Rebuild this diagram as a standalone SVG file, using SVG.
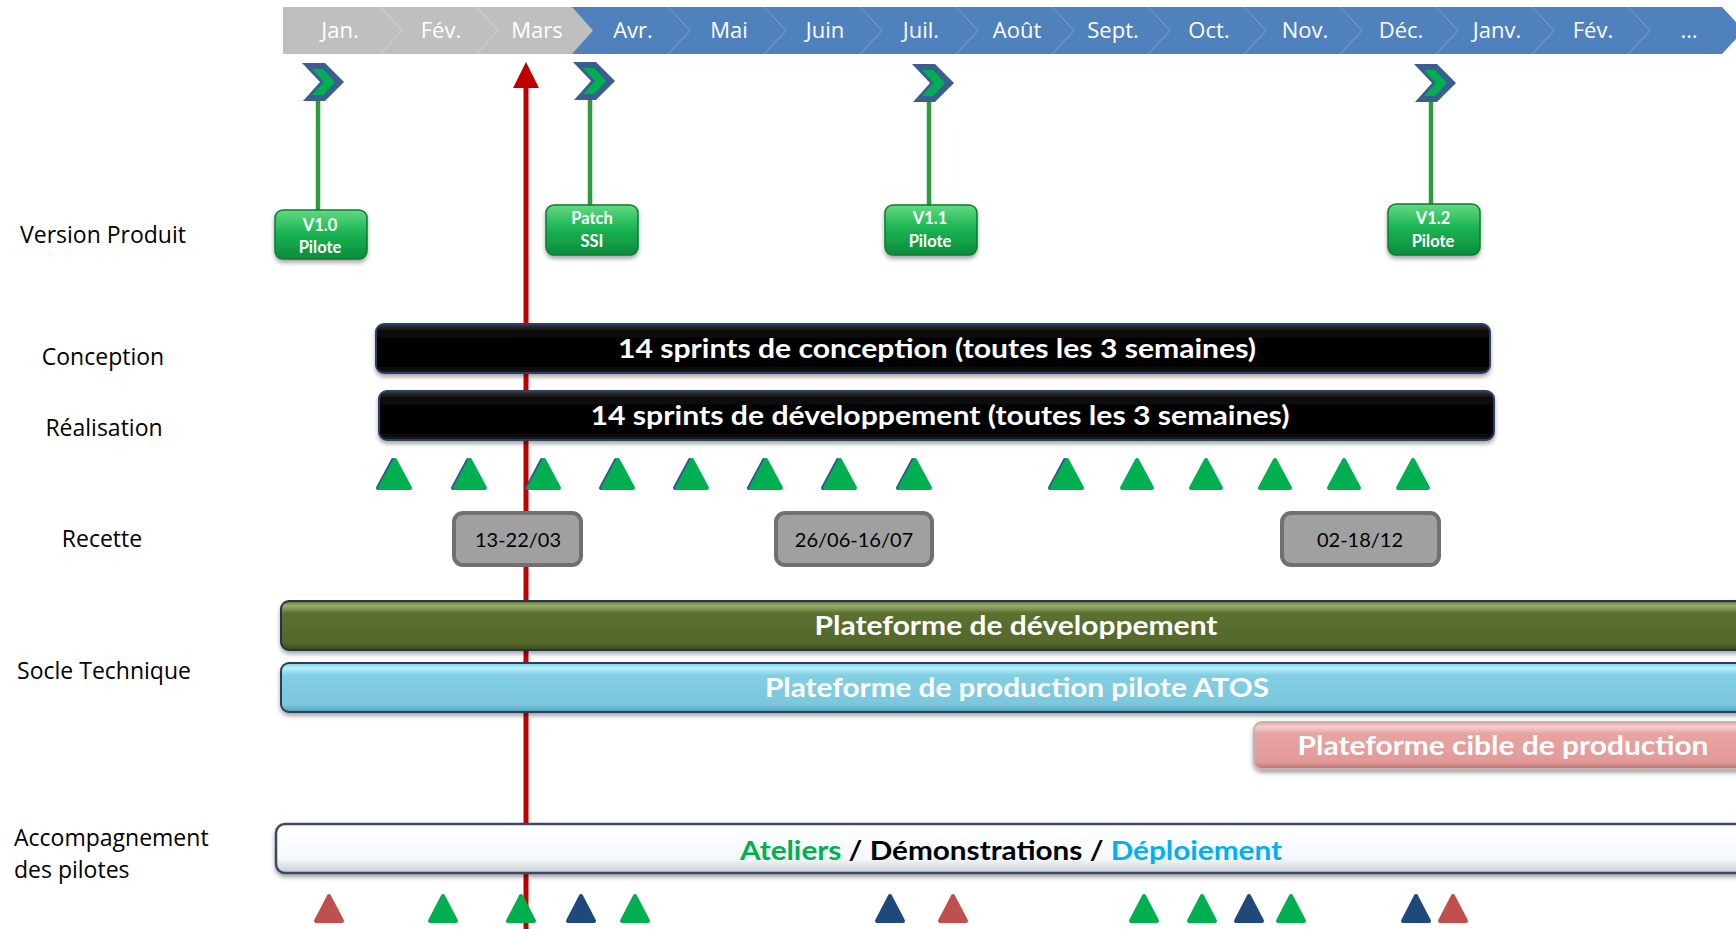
<svg xmlns="http://www.w3.org/2000/svg" width="1736" height="929" viewBox="0 0 1736 929">
<defs>
<style>
.mon{font-family:"Open Sans","Liberation Sans",sans-serif;font-size:22px;fill:#FFFFFF;text-anchor:middle}
.lbl{font-family:"Open Sans","Liberation Sans",sans-serif;font-size:23px;fill:#000;text-anchor:middle}
.lbl2{font-family:"Open Sans","Liberation Sans",sans-serif;font-size:23px;fill:#000}
.rel{font-family:Lato,"Liberation Sans",sans-serif;font-size:16.5px;font-weight:bold;fill:#FFFFFF;text-anchor:middle}
.bar{font-family:Lato,"Liberation Sans",sans-serif;font-size:26px;font-weight:bold;fill:#FFFFFF;text-anchor:middle}
.rec{font-family:Lato,"Liberation Sans",sans-serif;font-size:20px;fill:#000;text-anchor:middle}
.seamG{fill:none;stroke:#D6D6D6;stroke-width:1}
.seamB{fill:none;stroke:#7FA2D2;stroke-width:1}
.pole{stroke:#2E9B3C;stroke-width:4.5;fill:none}
.ico-o{fill:#3A5F8F}
.ico-i{fill:#00B050}
.tg{fill:#00B050;stroke:#00B050;stroke-width:4;stroke-linejoin:round}
.tb{fill:#2F5597;stroke:#2F5597;stroke-width:4;stroke-linejoin:round}
.tn{fill:#1F497D;stroke:#1F497D;stroke-width:4;stroke-linejoin:round}
.tr{fill:#C0504D;stroke:#C0504D;stroke-width:4;stroke-linejoin:round}
.recbox{fill:#A0A0A0;stroke:#707070;stroke-width:4}
</style>
<linearGradient id="gGreen" x1="0" y1="0" x2="0" y2="1">
<stop offset="0" stop-color="#63DA83"/><stop offset="0.45" stop-color="#1CB654"/><stop offset="1" stop-color="#0A8C3B"/>
</linearGradient>
<linearGradient id="gBlack" x1="0" y1="0" x2="0" y2="1">
<stop offset="0" stop-color="#3A3A3A"/><stop offset="0.15" stop-color="#080808"/><stop offset="0.85" stop-color="#000"/><stop offset="1" stop-color="#1E1E1E"/>
</linearGradient>
<linearGradient id="gOlive" x1="0" y1="0" x2="0" y2="1">
<stop offset="0" stop-color="#5E7432"/><stop offset="0.1" stop-color="#9BAF6C"/><stop offset="0.25" stop-color="#5B7030"/><stop offset="0.85" stop-color="#55692C"/><stop offset="1" stop-color="#3A4A1C"/>
</linearGradient>
<linearGradient id="gBlue" x1="0" y1="0" x2="0" y2="1">
<stop offset="0" stop-color="#7DCBE0"/><stop offset="0.1" stop-color="#B4F2FA"/><stop offset="0.25" stop-color="#82CEE2"/><stop offset="0.85" stop-color="#7CC7DC"/><stop offset="1" stop-color="#4F9DB5"/>
</linearGradient>
<linearGradient id="gPink" x1="0" y1="0" x2="0" y2="1">
<stop offset="0" stop-color="#E6A09E"/><stop offset="0.1" stop-color="#F6CFCD"/><stop offset="0.25" stop-color="#E8A4A2"/><stop offset="0.85" stop-color="#E29A98"/><stop offset="1" stop-color="#B57472"/>
</linearGradient>
<linearGradient id="gWhite" x1="0" y1="0" x2="0" y2="1">
<stop offset="0" stop-color="#FFFFFF"/><stop offset="0.7" stop-color="#F5F9FC"/><stop offset="1" stop-color="#C8CDD3"/>
</linearGradient>
<filter id="sh" x="-5%" y="-30%" width="110%" height="180%">
<feDropShadow dx="0" dy="3" stdDeviation="2" flood-color="#000" flood-opacity="0.35"/>
</filter>
<g id="icon">
<polygon class="ico-o" points="0,0 23,0 42,19 23,38 1,38 18,19"/>
<polygon class="ico-i" points="10,6 21,6 33,19 21,32 10,32 22,19"/>
</g>
</defs>

<rect width="1736" height="929" fill="#FFFFFF"/>

<g id="timeline-header">
<polygon points="560,7 1722,7 1744,30.5 1722,54 560,54" fill="#4F81BD"/>
<polygon points="283,7 572,7 593,30.5 572,54 283,54" fill="#BFBFBF"/>
<polyline class="seamG" points="380,7 402,30.5 380,54"/>
<polyline class="seamG" points="476,7 498,30.5 476,54"/>
<polyline class="seamB" points="668,7 690,30.5 668,54"/>
<polyline class="seamB" points="764,7 786,30.5 764,54"/>
<polyline class="seamB" points="860,7 882,30.5 860,54"/>
<polyline class="seamB" points="956,7 978,30.5 956,54"/>
<polyline class="seamB" points="1052,7 1074,30.5 1052,54"/>
<polyline class="seamB" points="1148,7 1170,30.5 1148,54"/>
<polyline class="seamB" points="1244,7 1266,30.5 1244,54"/>
<polyline class="seamB" points="1340,7 1362,30.5 1340,54"/>
<polyline class="seamB" points="1436,7 1458,30.5 1436,54"/>
<polyline class="seamB" points="1532,7 1554,30.5 1532,54"/>
<polyline class="seamB" points="1628,7 1650,30.5 1628,54"/>
<text class="mon" x="340" y="38">Jan.</text>
<text class="mon" x="441" y="38">Fév.</text>
<text class="mon" x="537" y="38">Mars</text>
<text class="mon" x="633" y="38">Avr.</text>
<text class="mon" x="729" y="38">Mai</text>
<text class="mon" x="825" y="38">Juin</text>
<text class="mon" x="921" y="38">Juil.</text>
<text class="mon" x="1017" y="38">Août</text>
<text class="mon" x="1113" y="38">Sept.</text>
<text class="mon" x="1209" y="38">Oct.</text>
<text class="mon" x="1305" y="38">Nov.</text>
<text class="mon" x="1401" y="38">Déc.</text>
<text class="mon" x="1497" y="38">Janv.</text>
<text class="mon" x="1593" y="38">Fév.</text>
<text class="mon" x="1689" y="38">…</text>
</g>

<g id="row-labels">
<text class="lbl" x="103" y="243">Version Produit</text>
<text class="lbl" x="103" y="365">Conception</text>
<text class="lbl" x="104" y="436">Réalisation</text>
<text class="lbl" x="102" y="547">Recette</text>
<text class="lbl" x="104" y="679">Socle Technique</text>
<text class="lbl2" x="14" y="846">Accompagnement</text>
<text class="lbl2" x="14" y="878">des pilotes</text>
</g>

<g id="today-marker">
<line x1="526" y1="86" x2="526" y2="929" stroke="#C00000" stroke-width="5"/>
<polygon points="513,88 539,88 526,62" fill="#C00000"/>
</g>

<g id="connectors">
<line class="pole" x1="318" y1="100" x2="318" y2="211"/>
<line class="pole" x1="590" y1="99" x2="590" y2="206"/>
<line class="pole" x1="929" y1="101" x2="929" y2="206"/>
<line class="pole" x1="1431" y1="101" x2="1431" y2="204"/>
</g>

<g id="milestone-v10"><use href="#icon" x="302" y="63"/></g>
<g id="milestone-patch"><use href="#icon" x="573" y="62"/></g>
<g id="milestone-v11"><use href="#icon" x="912" y="64"/></g>
<g id="milestone-v12"><use href="#icon" x="1414" y="64"/></g>

<g id="release-v10">
<rect x="275" y="210" width="92" height="49" rx="8" fill="url(#gGreen)" stroke="#0B7A33" stroke-width="1.5" filter="url(#sh)"/>
<text class="rel" x="320" y="231">V1.0</text>
<text class="rel" x="320" y="253">Pilote</text>
</g>
<g id="release-patch">
<rect x="546" y="205" width="92" height="50" rx="8" fill="url(#gGreen)" stroke="#0B7A33" stroke-width="1.5" filter="url(#sh)"/>
<text class="rel" x="592" y="224">Patch</text>
<text class="rel" x="592" y="247">SSI</text>
</g>
<g id="release-v11">
<rect x="885" y="205" width="92" height="50" rx="8" fill="url(#gGreen)" stroke="#0B7A33" stroke-width="1.5" filter="url(#sh)"/>
<text class="rel" x="930" y="224">V1.1</text>
<text class="rel" x="930" y="247">Pilote</text>
</g>
<g id="release-v12">
<rect x="1388" y="204" width="92" height="51" rx="8" fill="url(#gGreen)" stroke="#0B7A33" stroke-width="1.5" filter="url(#sh)"/>
<text class="rel" x="1433" y="224">V1.2</text>
<text class="rel" x="1433" y="247">Pilote</text>
</g>

<g id="conception">
<rect x="376" y="324" width="1114" height="49" rx="8" fill="url(#gBlack)" stroke="#2A4066" stroke-width="2" filter="url(#sh)"/>
<text class="bar" x="937" y="358" textLength="638" lengthAdjust="spacingAndGlyphs">14 sprints de conception (toutes les 3 semaines)</text>
</g>
<g id="realisation">
<rect x="379" y="391" width="1115" height="49" rx="8" fill="url(#gBlack)" stroke="#2A4066" stroke-width="2" filter="url(#sh)"/>
<text class="bar" x="940" y="425" textLength="699" lengthAdjust="spacingAndGlyphs">14 sprints de développement (toutes les 3 semaines)</text>
</g>

<g id="sprints">
<polygon class="tb" points="393,460 378,488 408,488"/>
<polygon class="tg" points="395,460 380,488 410,488"/>
<polygon class="tb" points="468,460 453,488 483,488"/>
<polygon class="tg" points="470,460 455,488 485,488"/>
<polygon class="tb" points="542,460 527,488 557,488"/>
<polygon class="tg" points="544,460 529,488 559,488"/>
<polygon class="tb" points="616,460 601,488 631,488"/>
<polygon class="tg" points="618,460 603,488 633,488"/>
<polygon class="tb" points="690,460 675,488 705,488"/>
<polygon class="tg" points="692,460 677,488 707,488"/>
<polygon class="tb" points="764,460 749,488 779,488"/>
<polygon class="tg" points="766,460 751,488 781,488"/>
<polygon class="tb" points="838,460 823,488 853,488"/>
<polygon class="tg" points="840,460 825,488 855,488"/>
<polygon class="tb" points="913,460 898,488 928,488"/>
<polygon class="tg" points="915,460 900,488 930,488"/>
<polygon class="tb" points="1065,460 1050,488 1080,488"/>
<polygon class="tg" points="1067,460 1052,488 1082,488"/>
<polygon class="tg" points="1137,460 1122,488 1152,488"/>
<polygon class="tg" points="1206,460 1191,488 1221,488"/>
<polygon class="tg" points="1275,460 1260,488 1290,488"/>
<polygon class="tg" points="1344,460 1329,488 1359,488"/>
<polygon class="tg" points="1413,460 1398,488 1428,488"/>
</g>

<g id="recette-1">
<rect class="recbox" x="454" y="513" width="127" height="52" rx="9"/>
<text class="rec" x="518" y="547">13-22/03</text>
</g>
<g id="recette-2">
<rect class="recbox" x="776" y="513" width="156" height="52" rx="9"/>
<text class="rec" x="854" y="547">26/06-16/07</text>
</g>
<g id="recette-3">
<rect class="recbox" x="1282" y="513" width="157" height="52" rx="9"/>
<text class="rec" x="1360" y="547">02-18/12</text>
</g>

<g id="plateforme-dev">
<rect x="281" y="601" width="1480" height="49" rx="8" fill="url(#gOlive)" stroke="#24344F" stroke-width="2" filter="url(#sh)"/>
<text class="bar" x="1016" y="635" textLength="403" lengthAdjust="spacingAndGlyphs">Plateforme de développement</text>
</g>
<g id="plateforme-pilote">
<rect x="281" y="663" width="1480" height="49" rx="8" fill="url(#gBlue)" stroke="#2C3F5A" stroke-width="2" filter="url(#sh)"/>
<text class="bar" x="1017" y="697" textLength="504" lengthAdjust="spacingAndGlyphs">Plateforme de production pilote ATOS</text>
</g>
<g id="plateforme-cible">
<rect x="1254" y="722" width="510" height="47" rx="8" fill="url(#gPink)" stroke="#C9B0B0" stroke-width="2" filter="url(#sh)"/>
<text class="bar" x="1503" y="755" textLength="411" lengthAdjust="spacingAndGlyphs">Plateforme cible de production</text>
</g>

<g id="accompagnement">
<rect x="276" y="824" width="1490" height="49" rx="9" fill="url(#gWhite)" stroke="#3B4A66" stroke-width="2.5" filter="url(#sh)"/>
<text class="bar" x="1011" y="860" textLength="542" lengthAdjust="spacingAndGlyphs"><tspan fill="#00B050">Ateliers</tspan><tspan fill="#000"> / Démonstrations / </tspan><tspan fill="#00B0F0">Déploiement</tspan></text>
</g>

<g id="events">
<polygon class="tr" points="329,896 316,921 342,921"/>
<polygon class="tg" points="443,896 430,921 456,921"/>
<polygon class="tg" points="521,896 508,921 534,921"/>
<polygon class="tn" points="581,896 568,921 594,921"/>
<polygon class="tg" points="635,896 622,921 648,921"/>
<polygon class="tn" points="890,896 877,921 903,921"/>
<polygon class="tr" points="953,896 940,921 966,921"/>
<polygon class="tg" points="1144,896 1131,921 1157,921"/>
<polygon class="tg" points="1202,896 1189,921 1215,921"/>
<polygon class="tn" points="1249,896 1236,921 1262,921"/>
<polygon class="tg" points="1291,896 1278,921 1304,921"/>
<polygon class="tn" points="1416,896 1403,921 1429,921"/>
<polygon class="tr" points="1453,896 1440,921 1466,921"/>
</g>
</svg>
